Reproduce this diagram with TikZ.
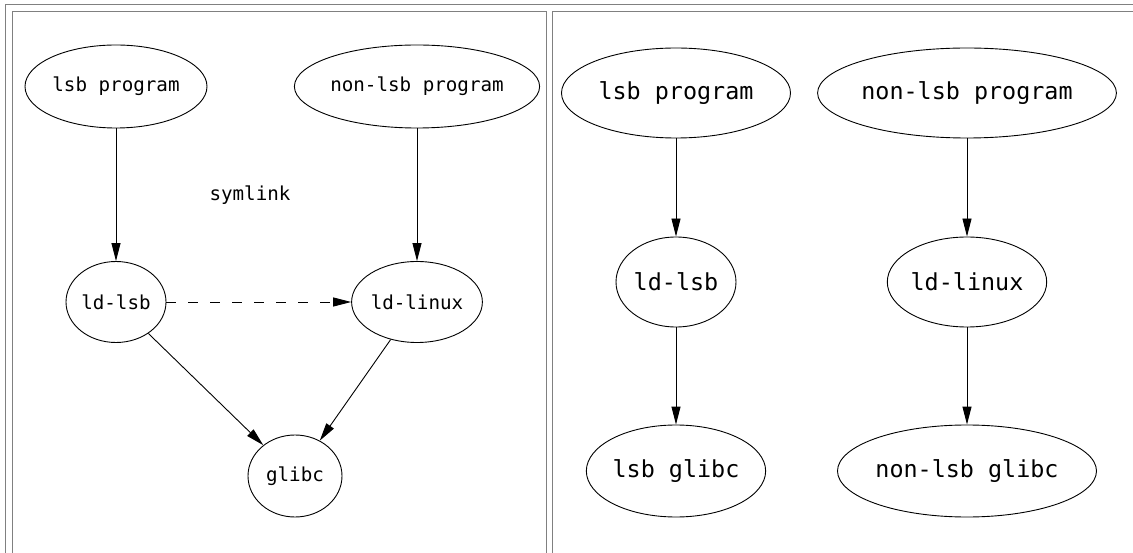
\documentclass[tikz,border=0pt]{standalone}
\usepackage{fontspec}
\newfontfamily\graphfont{DejaVu Sans Mono}
\usetikzlibrary{arrows.meta,shapes.geometric}

\begin{document}
\begin{tikzpicture}[
    x=1pt, y=-1pt,
    frame/.style={draw=gray, line width=1pt},
    prog/.style={ellipse, draw=black, line width=0.9pt, inner sep=0pt, font=\graphfont\fontsize{19.2}{22}\selectfont},
    progbig/.style={prog, font=\graphfont\fontsize{23.4}{27}\selectfont},
    dep/.style={-{Triangle[length=18pt,width=9pt]}, line width=0.9pt},
    slink/.style={dep, dash pattern=on 10pt off 12pt},
]
\useasboundingbox (0,0) rectangle (1133,553);

% table frame
\draw[frame] (5,553) -- (5,5) -- (1133,5);
\draw[frame] (12,553) -- (12,12) -- (546,12) -- (546,553);
\draw[frame] (552,553) -- (552,12) -- (1133,12);

% left: ld-lsb as a symlink
\node[prog, minimum width=182, minimum height=83] (lsbprogL) at (116,86.5) {lsb program};
\node[prog, minimum width=238, minimum height=83] (nonlsbprogL) at (417,86.5) {non-lsb program};
\node[prog, minimum width=100, minimum height=81] (ldlsbL) at (116,302) {ld-lsb};
\node[prog, minimum width=129, minimum height=81] (ldlinuxL) at (417,302) {ld-linux};
\node[prog, minimum width=94, minimum height=82] (glibcL) at (295,476) {glibc};
\node[font=\graphfont\fontsize{19.2}{22}\selectfont] (symlinkL) at (250,195) {symlink};

\draw[dep] (lsbprogL) -- (ldlsbL);
\draw[dep] (nonlsbprogL) -- (ldlinuxL);
\draw[slink] (ldlsbL) -- (ldlinuxL);
\draw[dep] (ldlsbL) -- (glibcL);
\draw[dep] (ldlinuxL) -- (glibcL);

% right: separate libraries
\node[progbig, minimum width=229, minimum height=90] (lsbprogR) at (676,93) {lsb program};
\node[progbig, minimum width=285, minimum height=90] (nonlsbprogR) at (967,93) {non-lsb program};
\node[progbig, minimum width=120, minimum height=90] (ldlsbR) at (676,282) {ld-lsb};
\node[progbig, minimum width=157, minimum height=90] (ldlinuxR) at (967,282) {ld-linux};
\node[progbig, minimum width=164, minimum height=92] (lsbglibcR) at (676,471) {lsb glibc};
\node[progbig, minimum width=227, minimum height=92] (nonglibcR) at (967,471) {non-lsb glibc};

\draw[dep] (lsbprogR) -- (ldlsbR);
\draw[dep] (nonlsbprogR) -- (ldlinuxR);
\draw[dep] (ldlsbR) -- (lsbglibcR);
\draw[dep] (ldlinuxR) -- (nonglibcR);

\end{tikzpicture}
\end{document}
